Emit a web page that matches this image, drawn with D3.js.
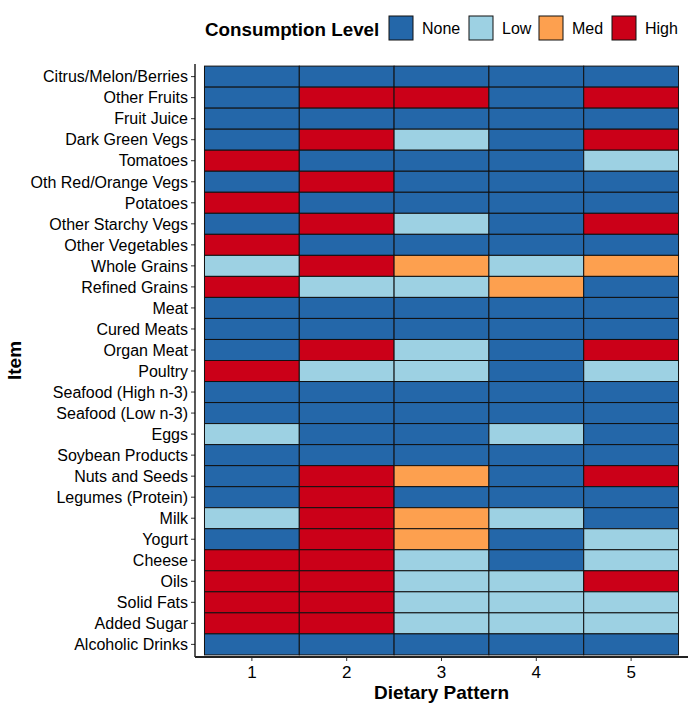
<!DOCTYPE html>
<html>
<head>
<meta charset="utf-8">
<script src="https://cdn.jsdelivr.net/npm/d3@7"></script>
<style>
  body { margin: 0; background: #fff; }
  text { font-family: "Liberation Sans", Arial, Helvetica, sans-serif; }
</style>
</head>
<body>
<div id="chart"></div>
<script>
var items = ["Citrus/Melon/Berries", "Other Fruits", "Fruit Juice", "Dark Green Vegs", "Tomatoes",
  "Oth Red/Orange Vegs", "Potatoes", "Other Starchy Vegs", "Other Vegetables", "Whole Grains",
  "Refined Grains", "Meat", "Cured Meats", "Organ Meat", "Poultry", "Seafood (High n-3)",
  "Seafood (Low n-3)", "Eggs", "Soybean Products", "Nuts and Seeds", "Legumes (Protein)",
  "Milk", "Yogurt", "Cheese", "Oils", "Solid Fats", "Added Sugar", "Alcoholic Drinks"];

var patterns = ["1", "2", "3", "4", "5"];
var levels = ["None", "Low", "Med", "High"];
var levelColors = ["#2467a9", "#9dd1e3", "#fda04f", "#cb0018"];

// consumption level per item, one letter per dietary pattern 1..5
// N = None, L = Low, M = Med, H = High
var levelCodes = [
  "NNNNN", "NHHNH", "NNNNN", "NHLNH", "HNNNL",
  "NHNNN", "HNNNN", "NHLNH", "HNNNN", "LHMLM",
  "HLLMN", "NNNNN", "NNNNN", "NHLNH", "HLLNL", "NNNNN",
  "NNNNN", "LNNLN", "NNNNN", "NHMNH", "NHNNN",
  "LHMLN", "NHMNL", "HHLNL", "HHLLH", "HHLLL", "HHLLL", "NNNNN"
];
var codeName = { N: "None", L: "Low", M: "Med", H: "High" };

var cells = [];
items.forEach(function(item, i) {
  patterns.forEach(function(p, j) {
    cells.push({ item: item, pattern: p, level: codeName[levelCodes[i][j]] });
  });
});

var W = 696, H = 710;
var margin = { top: 64, right: 8, bottom: 53, left: 195 };
var width = W - margin.left - margin.right,
    height = H - margin.top - margin.bottom;

var svg = d3.select("#chart").append("svg")
    .attr("width", W)
    .attr("height", H);

var g = svg.append("g")
    .attr("transform", "translate(" + margin.left + "," + margin.top + ")");

// band scales with 0.1 unit expansion on each side, like ggplot tiles
var x = d3.scaleBand().domain(patterns).range([0, width]).paddingOuter(0.1).paddingInner(0);
var y = d3.scaleBand().domain(items).range([0, height]).paddingOuter(0.1).paddingInner(0);
var color = d3.scaleOrdinal().domain(levels).range(levelColors);

g.selectAll("rect.cell").data(cells).enter().append("rect")
    .attr("class", "cell")
    .attr("x", function(d) { return x(d.pattern); })
    .attr("y", function(d) { return y(d.item); })
    .attr("width", x.bandwidth())
    .attr("height", y.bandwidth())
    .attr("fill", function(d) { return color(d.level); })
    .attr("stroke", "#111")
    .attr("stroke-width", 1);

// axes
var yAxis = g.append("g")
    .call(d3.axisLeft(y).tickSize(4).tickPadding(3));
yAxis.select(".domain").remove();
yAxis.selectAll(".tick line").attr("stroke", "#333");
yAxis.selectAll(".tick text")
    .attr("fill", "#000")
    .attr("dy", "0.36em")
    .style("font-size", "16px")
    .style("font-family", "'Liberation Sans', Arial, sans-serif");

var xAxis = g.append("g")
    .attr("transform", "translate(0," + height + ")")
    .call(d3.axisBottom(x).tickSize(4).tickPadding(5));
xAxis.select(".domain").remove();
xAxis.selectAll(".tick line").attr("stroke", "#333");
xAxis.selectAll(".tick text")
    .attr("fill", "#000")
    .style("font-size", "17px")
    .style("font-family", "'Liberation Sans', Arial, sans-serif");

// axis lines
g.append("line")
    .attr("x1", 0).attr("x2", 0)
    .attr("y1", 0).attr("y2", height)
    .attr("stroke", "#000").attr("stroke-width", 1.3);
g.append("line")
    .attr("x1", 0).attr("x2", width)
    .attr("y1", height).attr("y2", height)
    .attr("stroke", "#222").attr("stroke-width", 2);

// axis titles
svg.append("text")
    .attr("x", margin.left + width / 2)
    .attr("y", 699)
    .attr("text-anchor", "middle")
    .style("font-size", "19px")
    .style("font-weight", "bold")
    .text("Dietary Pattern");

svg.append("text")
    .attr("transform", "translate(21," + (margin.top + height / 2) + ") rotate(-90)")
    .attr("text-anchor", "middle")
    .style("font-size", "19px")
    .style("font-weight", "bold")
    .text("Item");

// legend
var legend = svg.append("g").attr("transform", "translate(205,16)");
legend.append("text")
    .attr("x", 0).attr("y", 20)
    .style("font-size", "18.8px")
    .style("font-weight", "bold")
    .text("Consumption Level");

var keyX = [184, 264, 334, 407];
var keys = legend.selectAll("g.key").data(levels).enter().append("g")
    .attr("class", "key")
    .attr("transform", function(d, i) { return "translate(" + keyX[i] + ",0)"; });
keys.append("rect")
    .attr("width", 24).attr("height", 24)
    .attr("fill", function(d) { return color(d); })
    .attr("stroke", "#111").attr("stroke-width", 1);
keys.append("text")
    .attr("x", 33).attr("y", 18)
    .style("font-size", "16px")
    .text(function(d) { return d; });
</script>
</body>
</html>
